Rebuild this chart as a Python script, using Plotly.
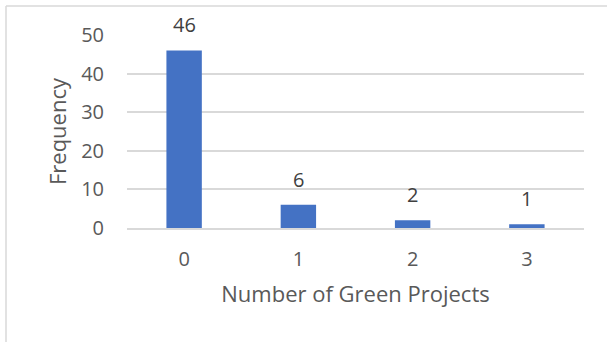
import plotly.graph_objects as go

# Histogram of green projects per respondent
categories = ["0", "1", "2", "3"]
frequencies = [46, 6, 2, 1]
y_ticks = [0, 10, 20, 30, 40, 50]

W, H = 607, 342
M_L, M_R, M_T, M_B = 127, 23, 35, 114
plot_w = W - M_L - M_R
plot_h = H - M_T - M_B

text_color = "#595959"
label_color = "#404040"
grid_color = "#d9d9d9"
font_family = "Open Sans, Liberation Sans, sans-serif"
tick_size = 20
title_size = 22

fig = go.Figure(
    go.Bar(
        x=categories,
        y=frequencies,
        marker=dict(color="#4472c4", line=dict(width=0)),
        width=0.31,
        hoverinfo="x+y",
    )
)

# Value labels above each bar
for cat, val in zip(categories, frequencies):
    fig.add_annotation(
        x=cat, y=val, text=str(val), showarrow=False,
        yanchor="bottom", yshift=10,
        font=dict(size=tick_size, color=label_color, family=font_family),
    )

fig.update_layout(
    width=W,
    height=H,
    margin=dict(l=M_L, r=M_R, t=M_T, b=M_B, pad=0),
    paper_bgcolor="white",
    plot_bgcolor="white",
    showlegend=False,
    font=dict(family=font_family, size=tick_size, color=text_color),
    xaxis=dict(
        type="category",
        showgrid=False,
        showline=True,
        linecolor=grid_color,
        linewidth=1.5,
        ticks="",
        tickfont=dict(size=tick_size, color=text_color),
        ticklabelstandoff=12,
        title=dict(text="Number of Green Projects", font=dict(size=title_size, color=text_color), standoff=16),
    ),
    yaxis=dict(
        range=[0, 50],
        tickvals=y_ticks,
        showgrid=True,
        gridcolor=grid_color,
        gridwidth=1.5,
        zeroline=False,
        showline=False,
        ticks="",
        tickfont=dict(size=tick_size, color=text_color),
        ticklabelstandoff=22,
        title=dict(text="Frequency", font=dict(size=title_size, color=text_color), standoff=8),
    ),
)

# Chart-area border (top and left edges)
bx = (6 - M_L) / plot_w
by = 1 + (M_T - 6) / plot_h
fig.add_shape(type="line", xref="paper", yref="paper", x0=bx, x1=1.2, y0=by, y1=by,
              line=dict(color=grid_color, width=1.5))
fig.add_shape(type="line", xref="paper", yref="paper", x0=bx, x1=bx, y0=by, y1=-1.0,
              line=dict(color=grid_color, width=1.5))

fig.write_html("out.html")
